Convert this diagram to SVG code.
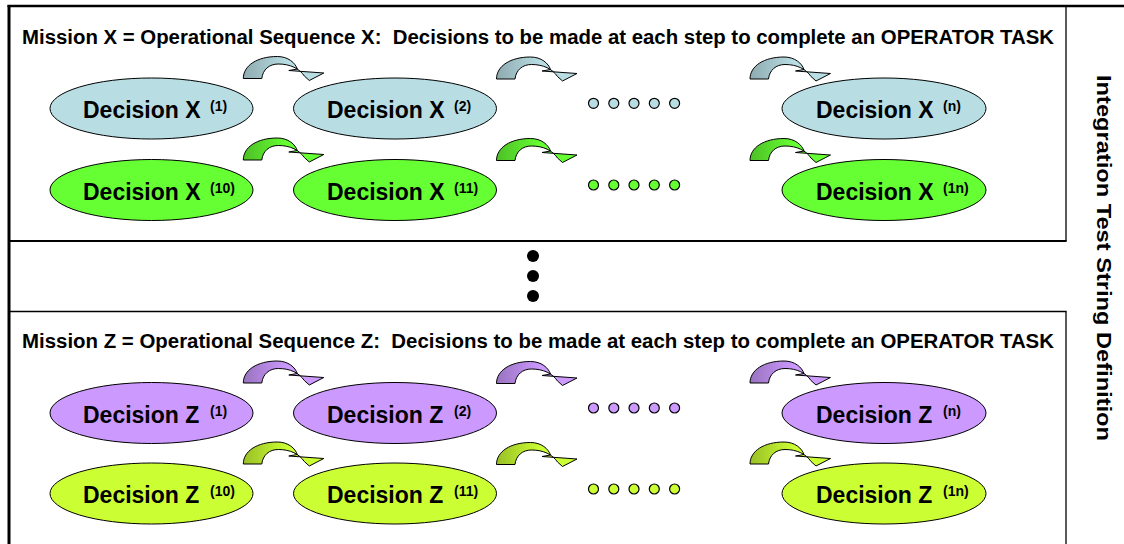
<svg xmlns="http://www.w3.org/2000/svg" width="1124" height="544" viewBox="0 0 1124 544">
  <defs>
    <style>
      .frame { fill: none; stroke: #000; }
      .title { font-family: "Liberation Sans", Arial, sans-serif; font-weight: bold; font-size: 20px; fill: #000; }
      .label { font-family: "Liberation Sans", Arial, sans-serif; font-weight: bold; font-size: 23px; fill: #000; }
      .sup { font-family: "Liberation Sans", Arial, sans-serif; font-weight: bold; font-size: 14px; fill: #000; }
      .node { stroke: #000; stroke-width: 1; }
      .blue { fill: #b8dde3; }
      .green { fill: #66ff33; }
      .purple { fill: #cc99ff; }
      .lime { fill: #ccff33; }
      .arrow { stroke: #000; stroke-width: 1; stroke-linejoin: round; }
      .dot { stroke: #000; stroke-width: 1.2; }
    </style>
    <linearGradient id="gBlue" x1="0" y1="0" x2="1" y2="0">
      <stop offset="0" stop-color="#8eabb0"/>
      <stop offset="0.55" stop-color="#b8dde3"/>
    </linearGradient>
    <linearGradient id="gGreen" x1="0" y1="0" x2="1" y2="0">
      <stop offset="0" stop-color="#4dbf26"/>
      <stop offset="0.55" stop-color="#66ff33"/>
    </linearGradient>
    <linearGradient id="gPurple" x1="0" y1="0" x2="1" y2="0">
      <stop offset="0" stop-color="#9973bf"/>
      <stop offset="0.55" stop-color="#cc99ff"/>
    </linearGradient>
    <linearGradient id="gLime" x1="0" y1="0" x2="1" y2="0">
      <stop offset="0" stop-color="#99bf26"/>
      <stop offset="0.55" stop-color="#ccff33"/>
    </linearGradient>
    <!-- curved block arrow, origin at the lower-left corner of its foot -->
    <path id="curve" d="M0,0 C0,-13 14,-22 34,-22 C45,-22 52,-15.5 54,-9.5 L45.5,-8 L80.5,-5.5 L66,2 L61,-2.5 C56,-10 47,-14.5 35,-14.5 C26,-14.5 19.5,-9 18.5,0 Z"/>
  </defs>

  <!-- frames -->
  <g id="frames">
    <line class="frame" x1="7.5" y1="6" x2="1124" y2="6" stroke-width="2.5"/>
    <line class="frame" x1="9" y1="5" x2="9" y2="544" stroke-width="3"/>
    <line class="frame" x1="1066" y1="6" x2="1066" y2="241" stroke-width="1.3"/>
    <line class="frame" x1="9" y1="241" x2="1066.6" y2="241" stroke-width="2"/>
    <line class="frame" x1="9" y1="311.5" x2="1066.6" y2="311.5" stroke-width="1.5"/>
    <line class="frame" x1="1066" y1="311.5" x2="1066" y2="544" stroke-width="1.3"/>
  </g>

  <g id="titles">
    <text class="title" xml:space="preserve" x="22" y="44" textLength="1032" lengthAdjust="spacingAndGlyphs">Mission X = Operational Sequence X:  Decisions to be made at each step to complete an OPERATOR TASK</text>
    <text class="title" xml:space="preserve" x="22" y="348" textLength="1032" lengthAdjust="spacingAndGlyphs">Mission Z = Operational Sequence Z:  Decisions to be made at each step to complete an OPERATOR TASK</text>
    <text class="title" transform="translate(1097 75) rotate(90)" x="0" y="0" textLength="366" lengthAdjust="spacingAndGlyphs">Integration Test String Definition</text>
  </g>

  <!-- mission X, row 1 -->
  <g id="x1">
    <ellipse class="node blue" cx="151.5" cy="108.5" rx="101.5" ry="30.5"/>
    <text class="label" x="83" y="118">Decision X</text><text class="sup" x="210" y="111">(1)</text>
  </g>
  <g id="x2">
    <ellipse class="node blue" cx="395" cy="108.5" rx="101.5" ry="30.5"/>
    <text class="label" x="327" y="118">Decision X</text><text class="sup" x="454" y="111">(2)</text>
  </g>
  <g id="xn">
    <ellipse class="node blue" cx="884" cy="108.5" rx="102" ry="30.5"/>
    <text class="label" x="816" y="118">Decision X</text><text class="sup" x="943" y="111">(n)</text>
  </g>

  <!-- mission X, row 2 -->
  <g id="x10">
    <ellipse class="node green" cx="151.5" cy="190" rx="101.5" ry="30.5"/>
    <text class="label" x="83" y="199.5">Decision X</text><text class="sup" x="210" y="192.5">(10)</text>
  </g>
  <g id="x11">
    <ellipse class="node green" cx="395" cy="190" rx="101.5" ry="30.5"/>
    <text class="label" x="327" y="199.5">Decision X</text><text class="sup" x="454" y="192.5">(11)</text>
  </g>
  <g id="x1n">
    <ellipse class="node green" cx="884" cy="190" rx="102" ry="30.5"/>
    <text class="label" x="816" y="199.5">Decision X</text><text class="sup" x="943" y="192.5">(1n)</text>
  </g>

  <!-- mission Z, row 1 -->
  <g id="z1">
    <ellipse class="node purple" cx="151.5" cy="413" rx="101.5" ry="30.5"/>
    <text class="label" x="83" y="422.5">Decision Z</text><text class="sup" x="210" y="415.5">(1)</text>
  </g>
  <g id="z2">
    <ellipse class="node purple" cx="395" cy="413" rx="101.5" ry="30.5"/>
    <text class="label" x="327" y="422.5">Decision Z</text><text class="sup" x="454" y="415.5">(2)</text>
  </g>
  <g id="zn">
    <ellipse class="node purple" cx="884" cy="413" rx="102" ry="30.5"/>
    <text class="label" x="816" y="422.5">Decision Z</text><text class="sup" x="943" y="415.5">(n)</text>
  </g>

  <!-- mission Z, row 2 -->
  <g id="z10">
    <ellipse class="node lime" cx="151.5" cy="493.5" rx="101.5" ry="30.5"/>
    <text class="label" x="83" y="503">Decision Z</text><text class="sup" x="210" y="496">(10)</text>
  </g>
  <g id="z11">
    <ellipse class="node lime" cx="395" cy="493.5" rx="101.5" ry="30.5"/>
    <text class="label" x="327" y="503">Decision Z</text><text class="sup" x="454" y="496">(11)</text>
  </g>
  <g id="z1n">
    <ellipse class="node lime" cx="884" cy="493.5" rx="102" ry="30.5"/>
    <text class="label" x="816" y="503">Decision Z</text><text class="sup" x="943" y="496">(1n)</text>
  </g>

  <!-- step arrows -->
  <g id="connectors">
    <use href="#curve" class="arrow" fill="url(#gBlue)" x="243.3" y="78.5"/>
    <use href="#curve" class="arrow" fill="url(#gBlue)" x="496.5" y="79"/>
    <use href="#curve" class="arrow" fill="url(#gBlue)" x="750" y="79"/>
    <use href="#curve" class="arrow" fill="url(#gGreen)" x="243.3" y="160"/>
    <use href="#curve" class="arrow" fill="url(#gGreen)" x="496.5" y="160.5"/>
    <use href="#curve" class="arrow" fill="url(#gGreen)" x="750" y="160.5"/>
    <use href="#curve" class="arrow" fill="url(#gPurple)" x="243.3" y="383"/>
    <use href="#curve" class="arrow" fill="url(#gPurple)" x="496.5" y="383.5"/>
    <use href="#curve" class="arrow" fill="url(#gPurple)" x="750" y="383"/>
    <use href="#curve" class="arrow" fill="url(#gLime)" x="243.3" y="464"/>
    <use href="#curve" class="arrow" fill="url(#gLime)" x="496.5" y="464.5"/>
    <use href="#curve" class="arrow" fill="url(#gLime)" x="750" y="464"/>
  </g>

  <!-- continuation dots -->
  <g id="ellipsis">
    <g class="dot blue">
      <circle cx="593.5" cy="103.3" r="5"/><circle cx="613.8" cy="103.3" r="5"/><circle cx="634" cy="103.3" r="5"/><circle cx="654.3" cy="103.3" r="5"/><circle cx="674.6" cy="103.3" r="5"/>
    </g>
    <g class="dot green">
      <circle cx="593.5" cy="185" r="5"/><circle cx="613.8" cy="185" r="5"/><circle cx="634" cy="185" r="5"/><circle cx="654.3" cy="185" r="5"/><circle cx="674.6" cy="185" r="5"/>
    </g>
    <g class="dot purple">
      <circle cx="593.5" cy="408" r="5"/><circle cx="613.8" cy="408" r="5"/><circle cx="634" cy="408" r="5"/><circle cx="654.3" cy="408" r="5"/><circle cx="674.6" cy="408" r="5"/>
    </g>
    <g class="dot lime">
      <circle cx="593.5" cy="489" r="5"/><circle cx="613.8" cy="489" r="5"/><circle cx="634" cy="489" r="5"/><circle cx="654.3" cy="489" r="5"/><circle cx="674.6" cy="489" r="5"/>
    </g>
    <g fill="#000">
      <circle cx="533" cy="256" r="6"/>
      <circle cx="533" cy="276" r="6"/>
      <circle cx="533" cy="296" r="6"/>
    </g>
  </g>
</svg>
